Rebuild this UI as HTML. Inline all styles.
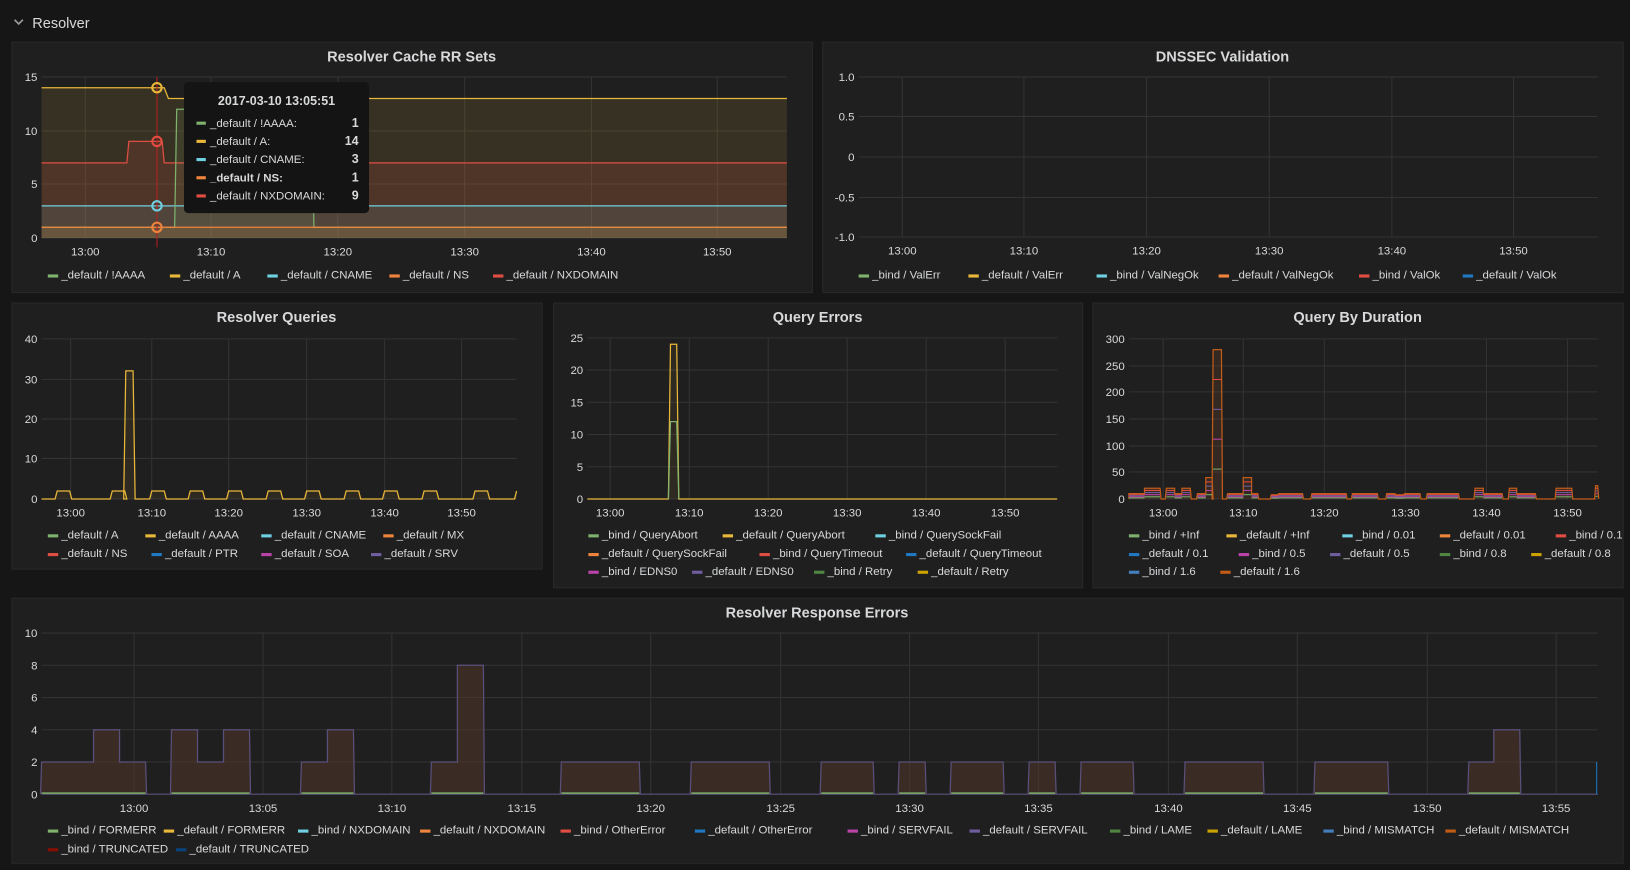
<!DOCTYPE html>
<html><head><meta charset="utf-8">
<style>
body{margin:0;width:1630px;height:870px;background:#161616;overflow:hidden;font-family:"Liberation Sans",sans-serif;}
svg{position:absolute;left:0;top:0}
text{font-family:"Liberation Sans",sans-serif}
</style></head><body>
<svg width="1630" height="870" xmlns="http://www.w3.org/2000/svg"><g id="s" transform="scale(1.0395)"></g></svg>
<script>
const S=document.getElementById('s');let h='';
h+='<path d="M14 19 l4 4 l4 -4" stroke="#9a9a9a" stroke-width="1.6" fill="none"/>';
h+='<text x="31" y="27" fill="#d8d9da" font-size="14">Resolver</text>';
function panel(x1,y1,x2,y2,title){h+=`<rect x="${x1+.5}" y="${y1+.5}" width="${x2-x1}" height="${y2-y1}" fill="#1f1f20" stroke="#292929"/>`;
h+=`<text x="${(x1+x2)/2}" y="${y1+19}" fill="#d8d9da" font-size="14" font-weight="bold" text-anchor="middle">${title}</text>`;}
function axes(xl,xr,yt,yb,ylabels,xt){
 ylabels.forEach(([y,l])=>{h+=`<line x1="${xl}" x2="${xr}" y1="${y}" y2="${y}" stroke="#333"/>`;h+=`<text x="${xl-4}" y="${y+4}" fill="#d8d9da" font-size="11" text-anchor="end">${l}</text>`});
 xt.forEach(([x,l])=>{h+=`<line x1="${x}" x2="${x}" y1="${yt}" y2="${yb}" stroke="#333"/>`;h+=`<text x="${x}" y="${yb+17}" fill="#d8d9da" font-size="11" text-anchor="middle">${l}</text>`});}
function legend(x,y,items){let cx=x;items.forEach(([c,t])=>{h+=`<rect x="${cx}" y="${y-4}" width="10" height="3" fill="${c}"/>`;h+=`<text x="${cx+13}" y="${y}" fill="#d8d9da" font-size="11">${t}</text>`;cx+=13+t.length*5.9+10;});}
function leg(x,rows){rows.forEach(([y,items])=>legend(x,y,items));}
function step(pts,color,fill,base){let d='M'+pts.map(p=>p.join(' ')).join(' L');if(fill)h+=`<path d="${d} L${pts[pts.length-1][0]} ${base} L${pts[0][0]} ${base}Z" fill="${fill}"/>`;h+=`<path d="${d}" fill="none" stroke="${color}" stroke-width="1.2"/>`;}
// Panel 1
panel(11,40,781,281,'Resolver Cache RR Sets');
axes(40,757,74,229,[[74,15],[126,10],[177,5],[229,0]],[[82,'13:00'],[203,'13:10'],[325,'13:20'],[447,'13:30'],[569,'13:40'],[690,'13:50']]);
const Y1=v=>229-10.33*v;
step([[40,Y1(14)],[158,Y1(14)],[162,Y1(13)],[757,Y1(13)]],'#eab839','rgba(234,184,57,0.12)',229);
step([[40,Y1(7)],[122,Y1(7)],[124,Y1(9)],[156,Y1(9)],[158,Y1(7)],[757,Y1(7)]],'#e24d42','rgba(226,77,66,0.14)',229);
step([[40,Y1(3)],[757,Y1(3)]],'#6ed0e0','rgba(110,208,224,0.1)',229);
step([[40,Y1(1)],[168,Y1(1)],[170,Y1(12)],[300,Y1(12)],[302,Y1(1)],[757,Y1(1)]],'#7eb26d','rgba(126,178,109,0.1)',229);
step([[40,Y1(1)],[757,Y1(1)]],'#ef843c','rgba(239,132,60,0.12)',229);
h+='<line x1="151" x2="151" y1="74" y2="238" stroke="#b81f1f"/>';
[[14,'#eab839'],[9,'#e24d42'],[3,'#6ed0e0'],[1,'#ef843c']].forEach(([v,c])=>h+=`<circle cx="151" cy="${Y1(v)}" r="4.5" fill="none" stroke="${c}" stroke-width="2"/>`);
h+='<rect x="177" y="79" width="178" height="126" rx="4" fill="#141414"/>';
h+='<text x="266" y="101" fill="#d8d9da" font-size="12" font-weight="bold" text-anchor="middle">2017-03-10 13:05:51</text>';
[['#7eb26d','_default / !AAAA:','1'],['#eab839','_default / A:','14'],['#6ed0e0','_default / CNAME:','3'],['#ef843c','_default / NS:','1'],['#e24d42','_default / NXDOMAIN:','9']].forEach(([c,t,v],i)=>{const y=122+i*17.5;const b=i==3?' font-weight="bold"':'';h+=`<rect x="189" y="${y-5}" width="9" height="3" fill="${c}"/><text x="202" y="${y}" fill="#d8d9da" font-size="11"${b}>${t}</text><text x="345" y="${y}" fill="#d8d9da" font-size="12" font-weight="bold" text-anchor="end">${v}</text>`});
legend(46,268,[['#7eb26d','_default / !AAAA'],['#eab839','_default / A'],['#6ed0e0','_default / CNAME'],['#ef843c','_default / NS'],['#e24d42','_default / NXDOMAIN']]);
// Panel 2
panel(791,40,1561,281,'DNSSEC Validation');
axes(826,1537,74,228,[[74,'1.0'],[112,'0.5'],[151,'0'],[190,'-0.5'],[228,'-1.0']],[[868,'13:00'],[985,'13:10'],[1103,'13:20'],[1221,'13:30'],[1339,'13:40'],[1456,'13:50']]);
legend(826,268,[['#7eb26d','_bind / ValErr'],['#eab839','_default / ValErr'],['#6ed0e0','_bind / ValNegOk'],['#ef843c','_default / ValNegOk'],['#e24d42','_bind / ValOk'],['#1f78c1','_default / ValOk']]);
// Panel 3
panel(11,291,521,547,'Resolver Queries');
axes(40,497,326,480,[[326,40],[365,30],[403,20],[441,10],[480,0]],[[68,'13:00'],[146,'13:10'],[220,'13:20'],[295,'13:30'],[370,'13:40'],[444,'13:50']]);
{const Y=v=>480-3.85*v;let p=[[40,480]];[[55,2],[108,2],[121,32],[146,2],[183,2],[220,2],[258,2],[295,2],[333,2],[370,2],[408,2],[457,2]].forEach(([x,v])=>{const w=v>2?7:12;p.push([x-2,480],[x,Y(v)],[x+w,Y(v)],[x+w+2,480])});p.push([495,480],[497,Y(2)]);step(p,'#eab839','rgba(234,184,57,0.08)',480);}
leg(46,[[518,[['#7eb26d','_default / A'],['#eab839','_default / AAAA'],['#6ed0e0','_default / CNAME'],['#ef843c','_default / MX']]],[536,[['#e24d42','_default / NS'],['#1f78c1','_default / PTR'],['#ba43a9','_default / SOA'],['#705da0','_default / SRV']]]]);
// Panel 4
panel(532,291,1041,565,'Query Errors');
axes(565,1017,325,480,[[325,25],[356,20],[387,15],[418,10],[449,5],[480,0]],[[587,'13:00'],[663,'13:10'],[739,'13:20'],[815,'13:30'],[891,'13:40'],[967,'13:50']]);
step([[565,480],[643,480],[645,480-6.2*24],[651,480-6.2*24],[653,480],[1017,480]],'#eab839','rgba(234,184,57,0.08)',480);
step([[643,480],[645,480-6.2*12],[651,480-6.2*12],[653,480]],'#7eb26d','',480);
leg(566,[[518,[['#7eb26d','_bind / QueryAbort'],['#eab839','_default / QueryAbort'],['#6ed0e0','_bind / QuerySockFail']]],[536,[['#ef843c','_default / QuerySockFail'],['#e24d42','_bind / QueryTimeout'],['#1f78c1','_default / QueryTimeout']]],[553,[['#ba43a9','_bind / EDNS0'],['#705da0','_default / EDNS0'],['#508642','_bind / Retry'],['#cca300','_default / Retry']]]]);
// Panel 5
panel(1051,291,1561,565,'Query By Duration');
axes(1086,1537,326,480,[[326,300],[352,250],[377,200],[403,150],[429,100],[454,50],[480,0]],[[1119,'13:00'],[1196,'13:10'],[1274,'13:20'],[1352,'13:30'],[1430,'13:40'],[1508,'13:50']]);
{const Y=v=>480-0.513*v;const blocks=[[1086,1101,10],[1101,1116,20],[1122,1130,20],[1130,1137,10],[1137,1145,20],[1152,1160,10],[1160,1166,40],[1167,1175,280],[1181,1196,10],[1196,1204,40],[1204,1210,10],[1223,1230,8],[1230,1253,10],[1262,1295,10],[1301,1325,10],[1334,1342,10],[1342,1351,8],[1351,1366,10],[1373,1403,10],[1419,1427,20],[1427,1445,10],[1452,1459,20],[1459,1477,10],[1497,1512,20],[1535,1537,25]];
let p=[[1086,480]];let last=1086;blocks.forEach(([a,b,v])=>{if(a>last+0.5)p.push([a-1,480]);p.push([a,Y(v)],[b,Y(v)]);last=b;const nxt=blocks.find(q=>q[0]===b);if(!nxt)p.push([b+1,480]);});
step(p,'#c15c17','rgba(239,132,60,0.1)',480);
blocks.forEach(([a,b,v])=>{[[0.8,'#e24d42'],[0.6,'#705da0'],[0.4,'#ba43a9'],[0.2,'#7eb26d']].forEach(([f,c])=>h+=`<line x1="${a}" x2="${b}" y1="${Y(v*f)}" y2="${Y(v*f)}" stroke="${c}"/>`)});}
leg(1086,[[518,[['#7eb26d','_bind / +Inf'],['#eab839','_default / +Inf'],['#6ed0e0','_bind / 0.01'],['#ef843c','_default / 0.01'],['#e24d42','_bind / 0.1']]],[536,[['#1f78c1','_default / 0.1'],['#ba43a9','_bind / 0.5'],['#705da0','_default / 0.5'],['#508642','_bind / 0.8'],['#cca300','_default / 0.8']]],[553,[['#447ebc','_bind / 1.6'],['#c15c17','_default / 1.6']]]]);
// Panel 6
panel(11,575,1561,830,'Resolver Response Errors');
axes(40,1537,609,764,[[609,10],[640,8],[671,6],[702,4],[733,2],[764,0]],[[129,'13:00'],[253,'13:05'],[377,'13:10'],[502,'13:15'],[626,'13:20'],[751,'13:25'],[875,'13:30'],[999,'13:35'],[1124,'13:40'],[1248,'13:45'],[1373,'13:50'],[1497,'13:55']]);
{const Y=v=>764-15.5*v;const segs=[[[40,90,2],[90,115,4],[115,140,2]],[[165,190,4],[190,215,2],[215,240,4]],[[290,315,2],[315,340,4]],[[415,440,2],[440,465,8]],[[540,615,2]],[[665,740,2]],[[790,840,2]],[[865,890,2]],[[915,965,2]],[[990,1015,2]],[[1040,1090,2]],[[1140,1215,2]],[[1265,1335,2]],[[1413,1437,2],[1437,1462,4]]];
h+=`<line x1="40" x2="1537" y1="764" y2="764" stroke="#5a4f7a"/>`;
segs.forEach(bs=>{let p=[[bs[0][0]-1,764]];bs.forEach(([a,b,v])=>{p.push([a,Y(v)],[b,Y(v)])});p.push([bs[bs.length-1][1]+1,764]);step(p,'#5a4f7a','rgba(80,55,40,0.55)',764);h+=`<line x1="${bs[0][0]}" x2="${bs[bs.length-1][1]}" y1="763" y2="763" stroke="#7eb26d" stroke-width="1.5"/>`});
h+=`<line x1="1536" x2="1536" y1="764" y2="${Y(2)}" stroke="#1f78c1"/>`;}
leg(46,[[802,[['#7eb26d','_bind / FORMERR'],['#eab839','_default / FORMERR'],['#6ed0e0','_bind / NXDOMAIN'],['#ef843c','_default / NXDOMAIN'],['#e24d42','_bind / OtherError'],['#1f78c1','_default / OtherError'],['#ba43a9','_bind / SERVFAIL'],['#705da0','_default / SERVFAIL'],['#508642','_bind / LAME'],['#cca300','_default / LAME'],['#447ebc','_bind / MISMATCH'],['#c15c17','_default / MISMATCH']]],[820,[['#890f02','_bind / TRUNCATED'],['#0a437c','_default / TRUNCATED']]]]);
S.innerHTML=h;
</script>
</body></html>
